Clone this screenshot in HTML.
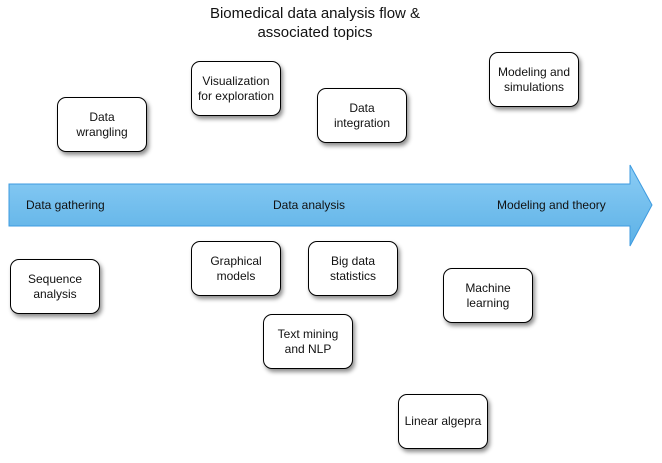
<!DOCTYPE html>
<html><head><style>
body{margin:0;width:662px;height:463px;background:#fff;position:relative;font-family:"Liberation Sans",sans-serif;overflow:hidden}
.b{position:absolute;width:88px;height:53px;border:1px solid #000;border-radius:9px;background:#fff;box-shadow:2px 3px 4px rgba(0,0,0,.45);display:flex;align-items:center;justify-content:center;text-align:center;font-size:12px;line-height:15px;color:#111}
.t{position:absolute;font-size:12px;color:#111}
</style></head><body>
<div style="position:absolute;left:0;top:4px;width:630px;text-align:center;font-size:15px;line-height:19px;color:#111">Biomedical data analysis flow &amp;<br>associated topics</div>
<svg width="662" height="463" style="position:absolute;left:0;top:0">
<defs><linearGradient id="g" x1="0" y1="0" x2="0" y2="1"><stop offset="0" stop-color="#8ccdf5"/><stop offset="1" stop-color="#5cb1e6"/></linearGradient></defs>
<polygon points="9,184 630,184 630,165 652,205 630,246 630,226 9,226" fill="url(#g)" stroke="#3e9be0" stroke-width="1"/>
</svg>
<div class="t" style="left:26px;top:198px">Data gathering</div>
<div class="t" style="left:273px;top:198px">Data analysis</div>
<div class="t" style="left:497px;top:198px">Modeling and theory</div>
<div class="b" style="left:57px;top:97px">Data<br>wrangling</div>
<div class="b" style="left:191px;top:61px">Visualization<br>for exploration</div>
<div class="b" style="left:317px;top:88px">Data<br>integration</div>
<div class="b" style="left:489px;top:52px">Modeling and<br>simulations</div>
<div class="b" style="left:10px;top:259px">Sequence<br>analysis</div>
<div class="b" style="left:191px;top:241px">Graphical<br>models</div>
<div class="b" style="left:308px;top:241px">Big data<br>statistics</div>
<div class="b" style="left:263px;top:314px">Text mining<br>and NLP</div>
<div class="b" style="left:443px;top:268px">Machine<br>learning</div>
<div class="b" style="left:398px;top:394px">Linear algepra</div>
</body></html>
